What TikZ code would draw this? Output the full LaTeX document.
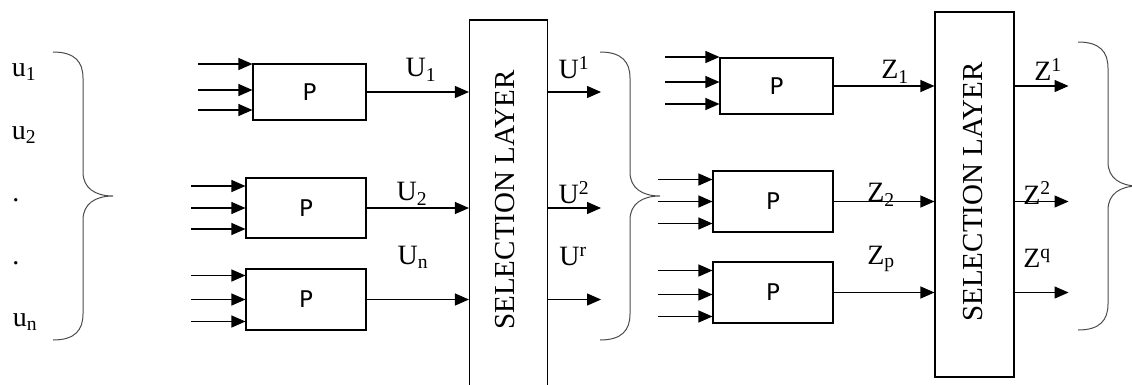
\documentclass[tikz,border=0pt]{standalone}
\usepackage{fontspec}
\setmainfont{Liberation Serif}
\newfontfamily\pfont{DejaVu Sans}
\usetikzlibrary{arrows.meta,calc}

\begin{document}
\begin{tikzpicture}[
    x=1pt,y=-1pt,
    line width=1.1pt,
    font=\fontsize{28}{32}\selectfont,
    pbox/.style={draw,minimum width=120pt,minimum height=60pt,inner sep=0pt,font=\pfont\fontsize{23}{26}\selectfont},
    selbox/.style={draw,minimum width=78pt,inner sep=0pt},
    seltext/.style={rotate=90,font=\fontsize{29}{32}\selectfont},
    arr/.style={-{Triangle[length=14pt,width=12pt]}},
    brc/.style={black!70,line width=1pt}
  ]
  \useasboundingbox (0,0) rectangle (1132,384);

  % input names
  \node (lu1) at (24,72) {u\textsubscript{1}};
  \node (lu2) at (24,135) {u\textsubscript{2}};
  \node (ldot1) at (16,200) {.};
  \node (ldot2) at (16,263) {.};
  \node (lun) at (25,322) {u\textsubscript{n}};

  % first stage
  \node[pbox,minimum width=113pt,minimum height=56pt] (p1) at (309.5,92) {P};
  \node[pbox] (p2) at (306,208) {P};
  \node[pbox,minimum height=61pt] (p3) at (306,299.5) {P};
  \node[selbox,minimum height=372pt] (s1) at (508.5,206) {};
  \node[seltext] (t1) at (505,200) {SELECTION LAYER};

  % second stage
  \node[pbox,minimum width=113pt,minimum height=56pt] (q1) at (776.5,86) {P};
  \node[pbox,minimum height=61pt] (q2) at (773,201.5) {P};
  \node[pbox,minimum height=61pt] (q3) at (773,292.5) {P};
  \node[selbox,minimum width=79pt,minimum height=365pt] (s2) at (974.5,194.5) {};
  \node[seltext] (t2) at (973,192) {SELECTION LAYER};

  % inputs of the P blocks
  \foreach \b/\ya/\yb/\yc in {p1/-28/-2/18, p2/-22/0/21, p3/-24/0/22, q1/-29/-4/18, q2/-22/0/22, q3/-22/2/24}{
    \foreach \d [count=\k] in {\ya,\yb,\yc}{
      \coordinate (in\b\k) at ($(\b.west)+(-54,\d)$);
      \draw[arr] (in\b\k) -- (in\b\k -| \b.west);
    }
  }

  % P blocks to selection layers
  \foreach \b in {p1,p2,p3}
    \draw[arr] (\b.east) -- (\b.east -| s1.west);
  \foreach \b in {q1,q2,q3}
    \draw[arr] (\b.east) -- (\b.east -| s2.west);

  % selection layer outputs
  \foreach \b [count=\k] in {p1,p2,p3}{
    \coordinate (outa\k) at ($(s1.east |- \b.east)+(53,0)$);
    \draw[arr] (s1.east |- \b.east) -- (outa\k);
  }
  \foreach \b [count=\k] in {q1,q2,q3}{
    \coordinate (outb\k) at ($(s2.east |- \b.east)+(54,0)$);
    \draw[arr] (s2.east |- \b.east) -- (outb\k);
  }

  % signal labels
  \node (lU1) at (421,70) {U\textsubscript{1}};
  \node (lU2) at (412,194) {U\textsubscript{2}};
  \node (lUn) at (413,257) {U\textsubscript{n}};
  \node (lUa) at (574,68) {U\textsuperscript{1}};
  \node (lUb) at (574,193) {U\textsuperscript{2}};
  \node (lUr) at (573,256) {U\textsuperscript{r}};
  \node (lZ1) at (895,72) {Z\textsubscript{1}};
  \node (lZ2) at (881,195) {Z\textsubscript{2}};
  \node (lZp) at (881,259) {Z\textsubscript{p}};
  \node (lZa) at (1048,70) {Z\textsuperscript{1}};
  \node (lZb) at (1037,193) {Z\textsuperscript{2}};
  \node (lZq) at (1037,258) {Z\textsuperscript{q}};

  % braces
  \foreach \x/\t/\b in {53/52/340, 600/52/340, 1078/42/330}{
    \pgfmathsetmacro\m{(\t+\b)/2}
    \draw[brc] (\x,\t) .. controls ({\x+22},\t) and ({\x+30},{\t+10}) .. ({\x+30},{\t+26})
      -- ({\x+30},{\m-24}) .. controls ({\x+30},{\m-8}) and ({\x+42},\m) .. ({\x+60},\m)
      .. controls ({\x+42},\m) and ({\x+30},{\m+8}) .. ({\x+30},{\m+24})
      -- ({\x+30},{\b-26}) .. controls ({\x+30},{\b-10}) and ({\x+22},\b) .. (\x,\b);
  }
\end{tikzpicture}
\end{document}
